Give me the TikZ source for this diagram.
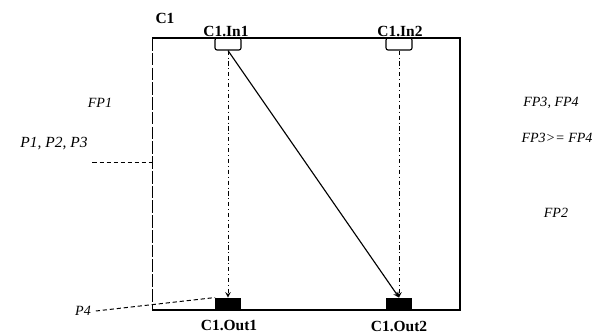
\documentclass[tikz,border=0pt]{standalone}
\usepackage{fontspec}
\setmainfont{Liberation Serif}
\begin{document}
\begin{tikzpicture}[x=0.025cm, y=-0.025cm, >=stealth,
    every node/.style={font=\fontsize{10}{12}\selectfont\itshape},
    plabel/.style={font=\fontsize{11}{13}\selectfont\bfseries},
    inport/.style={draw, line width=0.8pt, rounded corners=1.5pt, minimum width=0.65cm, minimum height=0.3cm, inner sep=0pt},
    outport/.style={draw, fill=black, minimum width=0.63cm, minimum height=0.31cm, inner sep=0pt}]
    \useasboundingbox (0,0) rectangle (596,335);
    % component C1
    \draw[line width=1pt] (152,38) -- (460,38) -- (460,310) -- (152,310);
    \draw[line width=0.6pt, dash pattern=on 9pt off 1.5pt] (152,38) -- (152,310);
    \node[plabel] (c1) at (165,18) {C1};
    \node[inport] (in1) at (228,44) {};
    \node[inport] (in2) at (399,44) {};
    \node[outport] (out1) at (228,304) {};
    \node[outport] (out2) at (399,304) {};
    \node[plabel] (lin1) at (226,31) {C1.In1};
    \node[plabel] (lin2) at (400,31) {C1.In2};
    \node[plabel] (lout1) at (229,325) {C1.Out1};
    \node[plabel] (lout2) at (399,326) {C1.Out2};
    \draw[->, line width=0.7pt, dash dot] (in1) -- (out1);
    \draw[->, line width=0.7pt, dash dot] (in2) -- (out2);
    \draw[->, line width=0.8pt] (in1.south) -- (out2.north);
    % properties
    \node (fp1) at (100,103) {FP1};
    \node[font=\fontsize{11}{13}\selectfont\itshape] (p123) at (54,144) {P1, P2, P3};
    \node (fp34) at (551,103) {FP3, FP4};
    \node (fpge) at (557,138) {FP3>= FP4};
    \node (fp2) at (556,213) {FP2};
    \node (p4) at (83,311) {P4};
    \coordinate (lft) at (152,162);
    \draw[line width=0.7pt, dash pattern=on 3pt off 2pt] (p123.east |- lft) -- (lft);
    \draw[line width=0.7pt, dash pattern=on 3pt off 2pt] (p4.east) -- (out1.north west);
\end{tikzpicture}
\end{document}
